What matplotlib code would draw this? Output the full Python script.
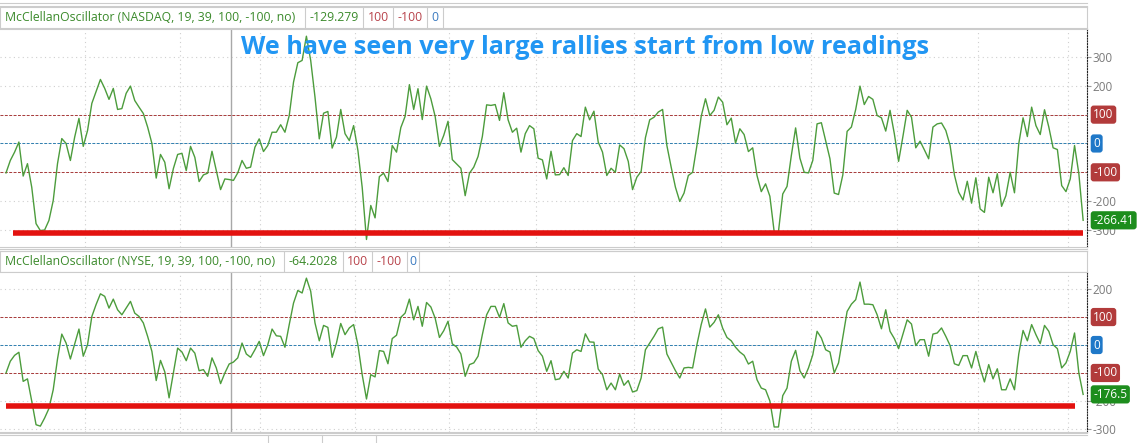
import numpy as np
import matplotlib.pyplot as plt
from matplotlib.lines import Line2D

plt.rcParams['font.family'] = ['Open Sans', 'DejaVu Sans']

W, H = 1147, 443

# McClellan oscillator readings, one per trading day
nasdaq = [
    -102, -59, -30, 5, -113, -70, -152, -278, -302, -300,
    -267, -198, -70, 17, 0, -59, 22, 87, -10, 45,
    139, 180, 222, 191, 153, 191, 118, 121, 174, 199,
    149, 126, 104, 57, 0, -120, -38, -65, -157, -87,
    -38, -34, -94, -10, -48, -132, -109, -103, -27, -94,
    -160, -123, -125, -128, -102, -59, -86, -82, -13, 16,
    -28, -7, 39, 39, 65, 39, 97, 213, 280, 288,
    372, 288, 161, 16, 105, 111, -16, 22, 118, 34,
    10, 62, -24, -152, -333, -215, -258, -115, -103, -132,
    -7, -30, 55, 94, 204, 118, 190, 83, 199, 155,
    94, -10, 28, 77, -56, -71, -86, -181, -103, -82,
    -45, 24, 134, 132, 135, 80, 176, 82, 39, 53,
    -30, 34, 62, 51, -51, -57, -123, -27, -109, -108,
    -84, -111, 10, 34, 24, 126, 82, 112, 5, -30,
    -111, -86, -100, -5, -18, -62, -160, -117, -97, 20,
    82, 91, 109, 118, -7, -82, -152, -201, -172, -111,
    -100, -7, 94, 155, 97, 115, 161, 143, 65, 88,
    1, 51, 31, -28, -15, -111, -167, -140, -183, -306,
    -306, -175, -149, -42, 54, -51, -100, -102, -59, 68,
    72, 10, -53, -172, -177, -109, 42, 57, 118, 199,
    135, 163, 153, 97, 89, 43, 115, 34, -62, 24,
    115, 91, -15, 8, -22, -53, 57, 68, 71, 45,
    -7, -109, -169, -196, -131, -207, -119, -227, -239, -117,
    -171, -105, -218, -181, -100, -171, -1, 89, 24, 126,
    62, 31, 117, 57, -15, -21, -146, -167, -123, -7,
    -105, -266.41,
]

nyse = [
    -100, -58, -37, -26, -130, -121, -201, -285, -290, -261,
    -227, -160, -50, 39, 7, -50, 4, 57, -40, 1,
    102, 145, 183, 174, 132, 164, 126, 108, 132, 156,
    114, 102, 79, 31, -23, -127, -55, -96, -189, -100,
    -11, -25, -56, -11, -29, -92, -88, -112, -46, -82,
    -138, -100, -68, -61, -46, 7, -32, -44, -17, 13,
    -38, 1, 57, 33, 31, -8, 73, 150, 195, 186,
    239, 192, 79, 15, 70, 63, -44, 7, 77, 37,
    61, 73, 1, -106, -193, -106, -114, -20, -23, -67,
    23, 35, 99, 114, 164, 90, 138, 67, 152, 136,
    96, 27, 51, 85, 4, -7, -32, -112, -70, -64,
    -40, 37, 108, 138, 138, 99, 148, 79, 67, 70,
    -8, 15, 31, 23, -20, -40, -94, -56, -124, -121,
    -94, -118, -29, -17, -23, 40, 11, 10, -86, -106,
    -160, -136, -160, -104, -144, -127, -168, -163, -118, -17,
    7, 31, 58, 64, -32, -62, -92, -118, -82, -80,
    -82, 1, 73, 129, 64, 81, 108, 60, 27, 15,
    -8, -25, -37, -68, -58, -124, -154, -160, -200, -293,
    -293, -181, -154, -58, -19, -92, -118, -82, -35, 49,
    25, -17, -25, -100, -64, 27, 120, 146, 162, 225,
    146, 146, 144, 108, 58, 126, 49, 23, -13, 39,
    90, 75, -2, 19, 19, -40, 39, 43, 61, 31,
    -2, -67, -73, -38, -38, -82, -23, -82, -132, -70,
    -121, -85, -160, -160, -121, -160, -32, 52, 15, 73,
    37, 5, 70, 49, 1, -13, -82, -64, -23, 43,
    -100, -176.5,
]

month_days = [18.4, 40.5, 59.2, 81.3, 103.2, 123.5, 146.3, 166.6, 187.6, 207.6, 226.5, 247.5]
year_day = 52.4

nasdaq_support = -310
nasdaq_support_span = (1.6, 251)
nyse_support = -218
nyse_support_span = (0, 249)

nasdaq_ticks = [300, 200, -200, -300]
nyse_ticks = [200, -200, -300]

title = 'We have seen very large rallies start from low readings'

GREEN_TXT = '#3b8a2b'
RED_TXT = '#b8434b'
BLUE_TXT = '#3a7ac0'
GRID = '#cfcfcf'
BORDER = '#cccccc'


def px_axes(fig, x0, y0, x1, y1):
    return fig.add_axes([x0 / W, 1 - y1 / H, (x1 - x0) / W, (y1 - y0) / H])


def hline_px(fig, y, x0=0, x1=1087, color=BORDER, lw=0.8):
    fig.add_artist(Line2D([x0 / W, x1 / W], [1 - y / H] * 2, transform=fig.transFigure,
                          color=color, lw=lw))


def vline_px(fig, x, y0, y1, color=BORDER, lw=0.8):
    fig.add_artist(Line2D([x / W] * 2, [1 - y0 / H, 1 - y1 / H], transform=fig.transFigure,
                          color=color, lw=lw))


def header(fig, y0, y1, name, cursor, cells):
    hx = px_axes(fig, 0, y0, 1087, y1)
    hx.set_xlim(0, 1087)
    hx.set_ylim(0, 1)
    hx.set_xticks([])
    hx.set_yticks([])
    for s in hx.spines.values():
        s.set_color(BORDER)
        s.set_linewidth(0.8)
    for c in cells:
        hx.axvline(c, color=BORDER, lw=0.8)
    hx.text(5, 0.5, 'McClellanOscillator (%s, 19, 39, 100, -100, no)' % name,
            color=GREEN_TXT, fontsize=8.8, va='center', ha='left')
    labels = [(cursor, GREEN_TXT), ('100', RED_TXT), ('-100', RED_TXT), ('0', BLUE_TXT)]
    for (lab, col), a, b in zip(labels, cells[:-1], cells[1:]):
        hx.text((a + b) / 2, 0.5, lab, color=col, fontsize=8.8, va='center', ha='center')


def panel(fig, box, vals, ylim, ticks, support, span, last):
    ax = px_axes(fig, *box)
    days = np.arange(len(vals))
    ax.set_xlim(-1.4, 251.9)
    ax.set_ylim(*ylim)
    for v in range(-300, 400, 100):
        ax.axhline(v, color=GRID, lw=0.8, ls=(0, (1, 3)), zorder=1)
    for d in month_days:
        ax.axvline(d, color=GRID, lw=0.8, ls=(0, (1, 3)), zorder=1)
    ax.axvline(year_day, color='#a8a8a8', lw=1.0, zorder=1)
    ax.axhline(100, color='#a83a3a', lw=0.7, ls=(0, (3, 1.5)), zorder=2)
    ax.axhline(-100, color='#a83a3a', lw=0.7, ls=(0, (3, 1.5)), zorder=2)
    ax.axhline(0, color='#2f7fb0', lw=0.7, ls=(0, (3, 1.5)), zorder=2)
    ax.plot(days, vals, color='#4c9c3c', lw=1.0, zorder=3)
    ax.hlines(support, span[0], span[1], color='#e3120f', lw=4, zorder=4)

    ax.set_xticks([])
    ax.yaxis.tick_right()
    ax.set_yticks(ticks)
    ax.set_yticklabels([str(t) for t in ticks])
    ax.tick_params(axis='y', colors='#999999', labelcolor='#7a7a7a', labelsize=8.5,
                   length=3, width=0.8, pad=1)
    ax.spines['left'].set_visible(False)
    ax.spines['right'].set_color('#222222')
    ax.spines['right'].set_linestyle((0, (1, 1.5)))
    ax.spines['right'].set_linewidth(0.8)
    ax.spines['top'].set_color(BORDER)
    ax.spines['bottom'].set_color(BORDER)

    badges = [(100, '100', '#b23b3b'), (0, '0', '#1f78c8'), (-100, '-100', '#b23b3b'),
              (vals[-1], last, '#1d8d1d')]
    for v, lab, col in badges:
        ax.text(1.0058, v, lab, transform=ax.get_yaxis_transform(), ha='left', va='center',
                color='white', fontsize=8.5, clip_on=False, zorder=6,
                bbox=dict(boxstyle='round,pad=0.22,rounding_size=0.25', fc=col, ec='none'))
    return ax


fig = plt.figure(figsize=(W / 100, H / 100), dpi=100, facecolor='white')

# frame lines
hline_px(fig, 3)
hline_px(fig, 6)
hline_px(fig, 248.5)
hline_px(fig, 250.5)
hline_px(fig, 433)
hline_px(fig, 435)
for x in (268, 322, 376):
    vline_px(fig, x, 435, 443)

header(fig, 7, 28, 'NASDAQ', '-129.279', [305, 363, 393, 427, 443])
panel(fig, (0, 29, 1087, 247), nasdaq, (-359, 397), nasdaq_ticks,
      nasdaq_support, nasdaq_support_span, '-266.41')

header(fig, 251, 272, 'NYSE', '-64.2028', [284, 343, 372, 407, 419])
panel(fig, (0, 272, 1087, 432), nyse, (-311, 261), nyse_ticks,
      nyse_support, nyse_support_span, '-176.5')

fig.text(585 / W, 1 - 47 / H, title, color='#2196f3', fontsize=18.2, fontweight='bold',
         ha='center', va='center')

fig.savefig('out.png', dpi=100, facecolor='white')
